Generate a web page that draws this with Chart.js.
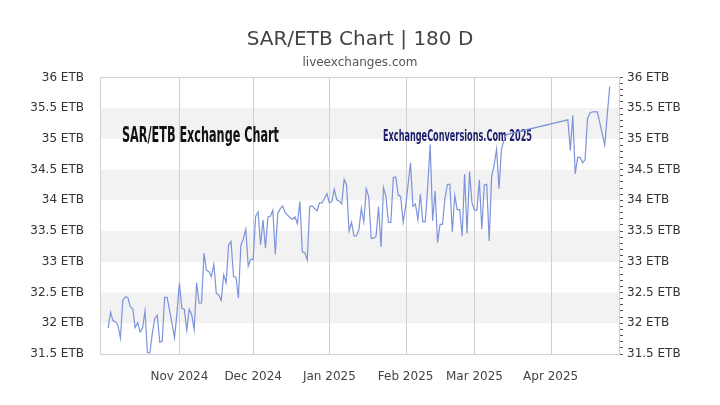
<!DOCTYPE html>
<html>
<head>
<meta charset="utf-8">
<script src="https://cdn.jsdelivr.net/npm/chart.js@4"></script>
<style>
  html, body { margin: 0; padding: 0; background: #fff; }
  #wrap { width: 720px; height: 405px; }
</style>
</head>
<body>
<div id="wrap"><canvas id="chart" width="720" height="405"></canvas></div>
<script>
// daily SAR/ETB rates
const dates = [
  '2024-10-03','2024-10-04','2024-10-05','2024-10-06','2024-10-07','2024-10-08','2024-10-09','2024-10-10',
  '2024-10-11','2024-10-12','2024-10-13','2024-10-14','2024-10-15','2024-10-16','2024-10-17','2024-10-18',
  '2024-10-19','2024-10-20','2024-10-21','2024-10-22','2024-10-23','2024-10-24','2024-10-25','2024-10-26',
  '2024-10-27','2024-10-29','2024-10-30','2024-10-31',
  '2024-11-01','2024-11-02','2024-11-03','2024-11-04','2024-11-05','2024-11-06','2024-11-07','2024-11-08',
  '2024-11-09','2024-11-10','2024-11-11','2024-11-12','2024-11-13','2024-11-14','2024-11-15','2024-11-16',
  '2024-11-17','2024-11-18','2024-11-19','2024-11-20','2024-11-21','2024-11-22','2024-11-23','2024-11-24',
  '2024-11-25','2024-11-26','2024-11-27','2024-11-28','2024-11-29','2024-11-30',
  '2024-12-01','2024-12-02','2024-12-03','2024-12-04','2024-12-05','2024-12-06','2024-12-07','2024-12-08',
  '2024-12-09','2024-12-10','2024-12-11','2024-12-12','2024-12-13','2024-12-14','2024-12-15','2024-12-16',
  '2024-12-17','2024-12-18','2024-12-19','2024-12-20','2024-12-21','2024-12-22','2024-12-23','2024-12-24',
  '2024-12-25','2024-12-26','2024-12-27','2024-12-28','2024-12-29','2024-12-30','2024-12-31',
  '2025-01-01','2025-01-02','2025-01-03','2025-01-04','2025-01-05','2025-01-06','2025-01-07','2025-01-08',
  '2025-01-09','2025-01-10','2025-01-11','2025-01-12','2025-01-13','2025-01-14','2025-01-15','2025-01-16',
  '2025-01-17','2025-01-18','2025-01-19','2025-01-20','2025-01-21','2025-01-22','2025-01-23','2025-01-24',
  '2025-01-25','2025-01-26','2025-01-27','2025-01-28','2025-01-29','2025-01-30','2025-01-31',
  '2025-02-01','2025-02-02','2025-02-03','2025-02-04','2025-02-05','2025-02-06','2025-02-07','2025-02-08',
  '2025-02-09','2025-02-10','2025-02-11','2025-02-12','2025-02-13','2025-02-14','2025-02-15','2025-02-16',
  '2025-02-17','2025-02-18','2025-02-19','2025-02-20','2025-02-21','2025-02-22','2025-02-23','2025-02-24',
  '2025-02-25','2025-02-26','2025-02-27','2025-02-28',
  '2025-03-01','2025-03-02','2025-03-03','2025-03-04','2025-03-05','2025-03-06','2025-03-07','2025-03-08',
  '2025-03-09','2025-03-10','2025-03-11','2025-03-12','2025-03-13','2025-03-14',
  '2025-04-08','2025-04-09','2025-04-10','2025-04-11','2025-04-12','2025-04-13','2025-04-14','2025-04-15',
  '2025-04-16','2025-04-17','2025-04-18','2025-04-19','2025-04-20','2025-04-23','2025-04-25'
];

const rates = [
  31.92, 32.18, 32.04, 32.03, 31.97, 31.76, 32.38, 32.43,
  32.42, 32.27, 32.24, 31.93, 32.01, 31.86, 31.92, 32.20,
  31.52, 31.52, 31.84, 32.08, 32.13, 31.69, 31.71, 32.42,
  32.42, 32.00, 31.76, 32.16,
  32.66, 32.24, 32.23, 31.89, 32.23, 32.14, 31.90, 32.66,
  32.33, 32.33, 33.14, 32.86, 32.84, 32.76, 32.96, 32.49,
  32.46, 32.37, 32.79, 32.66, 33.27, 33.33, 32.76, 32.75,
  32.41, 33.27, 33.37, 33.53, 32.93, 33.04,
  33.04, 33.74, 33.81, 33.28, 33.68, 33.22, 33.73, 33.74,
  33.84, 33.12, 33.79, 33.86, 33.91, 33.80, 33.76, 33.72,
  33.69, 33.73, 33.62, 33.98, 33.16, 33.15, 33.03, 33.90,
  33.91, 33.87, 33.83, 33.96, 33.96, 34.03, 34.11,
  33.96, 33.98, 34.18, 34.01, 33.99, 33.94, 34.34, 34.25,
  33.50, 33.64, 33.42, 33.42, 33.52, 33.87, 33.65, 34.19,
  34.06, 33.38, 33.38, 33.42, 33.90, 33.24, 34.21, 34.06,
  33.64, 33.64, 34.37, 34.38, 34.09, 34.06, 33.64,
  33.90, 34.25, 34.61, 33.90, 33.94, 33.68, 34.10, 33.65,
  33.65, 34.22, 34.91, 33.67, 34.15, 33.31, 33.61, 33.61,
  34.03, 34.26, 34.26, 33.49, 34.08, 33.85, 33.85, 33.42,
  34.43, 33.46, 34.47, 33.96,
  33.84, 33.84, 34.33, 33.53, 34.25, 34.26, 33.34, 34.39,
  34.57, 34.83, 34.19, 34.83, 34.98, 35.07,
  35.31, 34.81, 35.38, 34.43, 34.70, 34.70, 34.61, 34.66,
  35.33, 35.42, 35.44, 35.44, 35.44, 34.90, 35.85
];

const monthStarts = ['2024-11-01', '2024-12-01', '2025-01-01', '2025-02-01', '2025-03-01', '2025-04-01'];
const monthLabels = ['Nov 2024', 'Dec 2024', 'Jan 2025', 'Feb 2025', 'Mar 2025', 'Apr 2025'];
const shadedBands = [[32, 32.5], [33, 33.5], [34, 34.5], [35, 35.5]];

const DAY0 = Date.parse('2024-10-01');
function dayOf(s) {
  return (Date.parse(s) - DAY0) / 864e5;
}

const monthTicks = monthStarts.map(dayOf);
const points = dates.map((d, i) => ({ x: dayOf(d), y: rates[i] }));

function etb(v) {
  return (Math.round(v * 10) / 10) + ' ETB';
}

// grey bands + plot frame + watermark texts
const decorPlugin = {
  id: 'decor',
  beforeDatasetsDraw(chart) {
    const ctx = chart.ctx;
    const area = chart.chartArea;
    const y = chart.scales.y;
    ctx.save();
    ctx.fillStyle = '#f2f2f2';
    shadedBands.forEach(b => {
      const top = y.getPixelForValue(b[1]);
      const bot = y.getPixelForValue(b[0]);
      ctx.fillRect(area.left, top, area.right - area.left, bot - top);
    });
    // month grid lines
    ctx.strokeStyle = '#cfcfcf';
    ctx.lineWidth = 1;
    const x = chart.scales.x;
    monthTicks.forEach(v => {
      const px = Math.round(x.getPixelForValue(v)) + 0.5;
      ctx.beginPath();
      ctx.moveTo(px, area.top);
      ctx.lineTo(px, area.bottom);
      ctx.stroke();
    });
    ctx.strokeStyle = '#d0d0d0';
    ctx.strokeRect(Math.round(area.left) + 0.5, Math.round(area.top) + 0.5,
      Math.round(area.right - area.left), Math.round(area.bottom - area.top));

    drawSqueezed(ctx, 'SAR/ETB Exchange Chart', 'bold 21px "DejaVu Sans Condensed"', '#111', 122, 142, 157);
    drawSqueezed(ctx, 'ExchangeConversions.Com 2025', 'bold 16px "DejaVu Sans Condensed"', '#1c1c6b', 383, 141, 149);
    ctx.restore();
  }
};

function drawSqueezed(ctx, text, font, color, x, baseline, width) {
  ctx.save();
  ctx.font = font;
  ctx.fillStyle = color;
  const w = ctx.measureText(text).width;
  ctx.translate(x, baseline);
  ctx.scale(width / w, 1);
  ctx.textBaseline = 'alphabetic';
  ctx.fillText(text, 0, 0);
  ctx.restore();
}

new Chart(document.getElementById('chart'), {
  type: 'line',
  data: {
    datasets: [{
      label: 'SAR/ETB',
      data: points,
      borderColor: '#7d93dc',
      borderWidth: 1.2,
      pointRadius: 0,
      tension: 0,
      fill: false
    }]
  },
  options: {
    responsive: false,
    animation: false,
    layout: { padding: 0 },
    plugins: {
      legend: { display: false },
      tooltip: { enabled: false },
      title: {
        display: true,
        text: 'SAR/ETB Chart | 180 D',
        color: '#444',
        font: { family: 'DejaVu Sans', size: 20, weight: 'normal' },
        padding: { top: 28, bottom: 4 }
      },
      subtitle: {
        display: true,
        text: 'liveexchanges.com',
        color: '#555',
        font: { family: 'DejaVu Sans', size: 12 },
        padding: { top: 0, bottom: 7 }
      }
    },
    scales: {
      x: {
        type: 'linear',
        min: -1.3,
        max: 209.8,
        afterBuildTicks(scale) {
          scale.ticks = monthTicks.map(v => ({ value: v }));
        },
        afterFit(scale) { scale.height = 51; },
        grid: { display: false },
        border: { display: false },
        ticks: {
          autoSkip: false,
          maxRotation: 0,
          padding: 8,
          color: '#444',
          font: { family: 'DejaVu Sans', size: 12 },
          callback: v => monthLabels[monthTicks.indexOf(v)] || ''
        }
      },
      y: {
        position: 'left',
        min: 31.5,
        max: 36,
        afterFit(scale) { scale.width = 100; },
        grid: { display: false },
        border: { display: false },
        ticks: {
          stepSize: 0.5,
          padding: 8,
          color: '#333',
          font: { family: 'DejaVu Sans', size: 12 },
          callback: v => etb(v)
        }
      },
      y2: {
        position: 'right',
        min: 31.5,
        max: 36,
        afterFit(scale) { scale.width = 101; },
        grid: {
          drawOnChartArea: false,
          tickLength: 4,
          color: '#555'
        },
        border: { display: false },
        ticks: {
          stepSize: 0.1,
          autoSkip: false,
          padding: 4,
          color: '#333',
          font: { family: 'DejaVu Sans', size: 12 },
          callback: v => (Math.abs(v * 2 - Math.round(v * 2)) < 1e-6 ? etb(v) : '')
        }
      }
    }
  },
  plugins: [decorPlugin]
});
</script>
</body>
</html>
